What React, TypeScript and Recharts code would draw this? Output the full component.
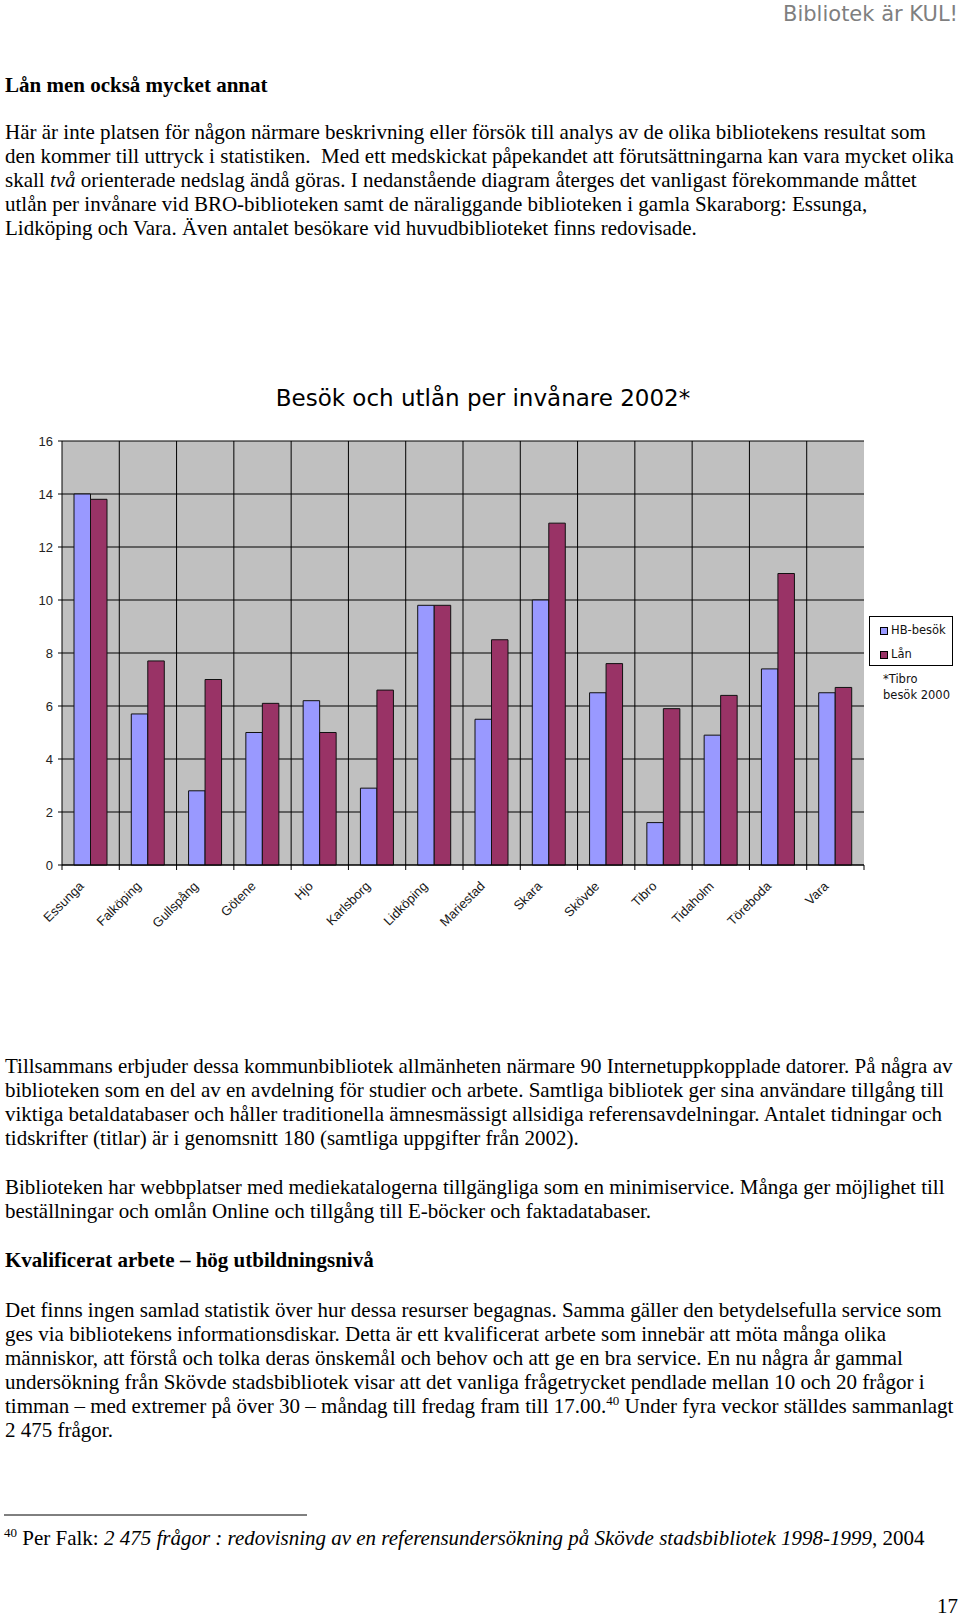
import React from "react";
import {
  BarChart,
  Bar,
  XAxis,
  YAxis,
  CartesianGrid,
  Legend,
} from "recharts";

const libraries = [
  "Essunga",
  "Falköping",
  "Gullspång",
  "Götene",
  "Hjo",
  "Karlsborg",
  "Lidköping",
  "Mariestad",
  "Skara",
  "Skövde",
  "Tibro",
  "Tidaholm",
  "Töreboda",
  "Vara",
];
const hbVisits = [14.0, 5.7, 2.8, 5.0, 6.2, 2.9, 9.8, 5.5, 10.0, 6.5, 1.6, 4.9, 7.4, 6.5];
const loans = [13.8, 7.7, 7.0, 6.1, 5.0, 6.6, 9.8, 8.5, 12.9, 7.6, 5.9, 6.4, 11.0, 6.7];
const yTicks = [0, 2, 4, 6, 8, 10, 12, 14, 16];

const rows = libraries.map((name, i) => ({ name, hb: hbVisits[i], lan: loans[i] }));

const CHART_TOP = 360;
const CHART_W = 960;
const CHART_H = 580;
const MARGIN = { top: 81, right: 96, left: 0, bottom: 15 };
const Y_W = 62;
const PLOT_W = CHART_W - MARGIN.left - MARGIN.right - Y_W;
const STEP = PLOT_W / libraries.length;

const BLUE = "#9999FF";
const PLUM = "#993366";

const serif = "'Liberation Serif', 'Times New Roman', serif";
const sans = "'DejaVu Sans', Verdana, sans-serif";

const XTick = (props: any) => {
  const { x, y, payload, index } = props;
  const axisY = y - 6;
  const lx = x - 6;
  const ly = y + 16;
  return (
    <g>
      <line x1={x - STEP / 2} x2={x - STEP / 2} y1={axisY} y2={axisY + 5} stroke="#000" />
      {index === libraries.length - 1 && (
        <line x1={x + STEP / 2} x2={x + STEP / 2} y1={axisY} y2={axisY + 5} stroke="#000" />
      )}
      <text
        x={lx}
        y={ly}
        textAnchor="end"
        transform={`rotate(-45, ${lx}, ${ly})`}
        fontSize={13}
        fontFamily="'Liberation Sans', Arial, sans-serif"
        fill="#1a1a1a"
      >
        {payload.value}
      </text>
    </g>
  );
};

const LegendBox = () => (
  <div
    style={{
      width: 82,
      height: 48,
      border: "1px solid #000",
      background: "#fff",
      position: "relative",
      fontFamily: sans,
      fontSize: 11.5,
      color: "#111",
    }}
  >
    {[
      { label: "HB-besök", color: BLUE, top: 9 },
      { label: "Lån", color: PLUM, top: 33 },
    ].map((it) => (
      <div key={it.label} style={{ position: "absolute", left: 10, top: it.top, height: 9, display: "flex", alignItems: "center" }}>
        <span style={{ width: 6, height: 6, border: "1px solid #000", background: it.color, display: "inline-block" }} />
        <span style={{ marginLeft: 3, lineHeight: "9px" }}>{it.label}</span>
      </div>
    ))}
  </div>
);

const Sup = ({ children }: { children: React.ReactNode }) => (
  <tspan fontSize={13} dy={-8}>{children}</tspan>
);

export default function App() {
  return (
    <div style={{ position: "absolute", left: 0, top: 0, width: 960, height: 1620, background: "#fff" }}>
      <svg width={960} height={1620} style={{ position: "absolute", left: 0, top: 0 }}>
        <text x={958} y={21} textAnchor="end" fontFamily={sans} fontSize={21} fill="#7f7f7f">
          Bibliotek är KUL!
        </text>
        <g fontFamily={serif} fontSize={21} fill="#000">
          <text x={5} y={92} fontWeight="bold">Lån men också mycket annat</text>
          <text x={5} y={139}>Här är inte platsen för någon närmare beskrivning eller försök till analys av de olika bibliotekens resultat som</text>
          <text x={5} y={163} xmlSpace="preserve" style={{ whiteSpace: "pre" }}>
            {"den kommer till uttryck i statistiken.  Med ett medskickat påpekandet att förutsättningarna kan vara mycket olika"}
          </text>
          <text x={5} y={187}>
            skall <tspan fontStyle="italic">två</tspan> orienterade nedslag ändå göras. I nedanstående diagram återges det vanligast förekommande måttet
          </text>
          <text x={5} y={211}>utlån per invånare vid BRO-biblioteken samt de näraliggande biblioteken i gamla Skaraborg: Essunga,</text>
          <text x={5} y={235}>Lidköping och Vara. Även antalet besökare vid huvudbiblioteket finns redovisade.</text>

          <text x={5} y={1073}>Tillsammans erbjuder dessa kommunbibliotek allmänheten närmare 90 Internetuppkopplade datorer. På några av</text>
          <text x={5} y={1097}>biblioteken som en del av en avdelning för studier och arbete. Samtliga bibliotek ger sina användare tillgång till</text>
          <text x={5} y={1121}>viktiga betaldatabaser och håller traditionella ämnesmässigt allsidiga referensavdelningar. Antalet tidningar och</text>
          <text x={5} y={1145}>tidskrifter (titlar) är i genomsnitt 180 (samtliga uppgifter från 2002).</text>

          <text x={5} y={1194}>Biblioteken har webbplatser med mediekatalogerna tillgängliga som en minimiservice. Många ger möjlighet till</text>
          <text x={5} y={1218}>beställningar och omlån Online och tillgång till E-böcker och faktadatabaser.</text>

          <text x={5} y={1267} fontWeight="bold">Kvalificerat arbete – hög utbildningsnivå</text>

          <text x={5} y={1317}>Det finns ingen samlad statistik över hur dessa resurser begagnas. Samma gäller den betydelsefulla service som</text>
          <text x={5} y={1341}>ges via bibliotekens informationsdiskar. Detta är ett kvalificerat arbete som innebär att möta många olika</text>
          <text x={5} y={1365}>människor, att förstå och tolka deras önskemål och behov och att ge en bra service. En nu några år gammal</text>
          <text x={5} y={1389}>undersökning från Skövde stadsbibliotek visar att det vanliga frågetrycket pendlade mellan 10 och 20 frågor i</text>
          <text x={5} y={1413}>
            timman – med extremer på över 30 – måndag till fredag fram till 17.00.<Sup>40</Sup>
            <tspan dy={8}> Under fyra veckor ställdes sammanlagt</tspan>
          </text>
          <text x={5} y={1437}>2 475 frågor.</text>

          <line x1={4} x2={307} y1={1515} y2={1515} stroke="#000" strokeWidth={1} />
          <text x={4} y={1545}>
            <Sup>40</Sup>
            <tspan dy={8}> Per Falk: </tspan>
            <tspan fontStyle="italic">2 475 frågor : redovisning av en referensundersökning på Skövde stadsbibliotek 1998-1999</tspan>
            <tspan>, 2004</tspan>
          </text>
          <text x={958} y={1613} textAnchor="end">17</text>
        </g>

        <text x={483} y={406} textAnchor="middle" fontFamily={sans} fontSize={23} fill="#000">
          Besök och utlån per invånare 2002*
        </text>
        <g fontFamily={sans} fontSize={11.5} fill="#111">
          <text x={883} y={683}>*Tibro</text>
          <text x={883} y={699}>besök 2000</text>
        </g>
      </svg>

      <div style={{ position: "absolute", left: 0, top: CHART_TOP }}>
        <BarChart width={CHART_W} height={CHART_H} data={rows} margin={MARGIN} barGap={0} barSize={16.5}>
          <CartesianGrid
            stroke="#000"
            fill="#C0C0C0"
            fillOpacity={1}
            verticalCoordinatesGenerator={({ offset }: any) =>
              libraries.slice(1).map((_, i) => offset.left + (i + 1) * (offset.width / libraries.length))
            }
          />
          <XAxis
            dataKey="name"
            height={60}
            interval={0}
            tickLine={false}
            tickSize={4}
            tickMargin={2}
            axisLine={{ stroke: "#000" }}
            tick={<XTick />}
          />
          <YAxis
            width={Y_W}
            domain={[0, 16]}
            ticks={yTicks}
            interval={0}
            tickSize={4}
            tickMargin={5}
            axisLine={{ stroke: "#000" }}
            tickLine={{ stroke: "#000" }}
            tick={{ fontSize: 13, fill: "#222", fontFamily: "'Liberation Sans', Arial, sans-serif" }}
          />
          <Legend
            layout="vertical"
            align="center"
            verticalAlign="middle"
            wrapperStyle={{ left: 869, top: 616 - CHART_TOP, width: 84 }}
            content={() => <LegendBox />}
          />
          <Bar dataKey="hb" name="HB-besök" fill={BLUE} stroke="#111" strokeWidth={1} isAnimationActive={false} />
          <Bar dataKey="lan" name="Lån" fill={PLUM} stroke="#111" strokeWidth={1} isAnimationActive={false} />
        </BarChart>
      </div>
    </div>
  );
}
